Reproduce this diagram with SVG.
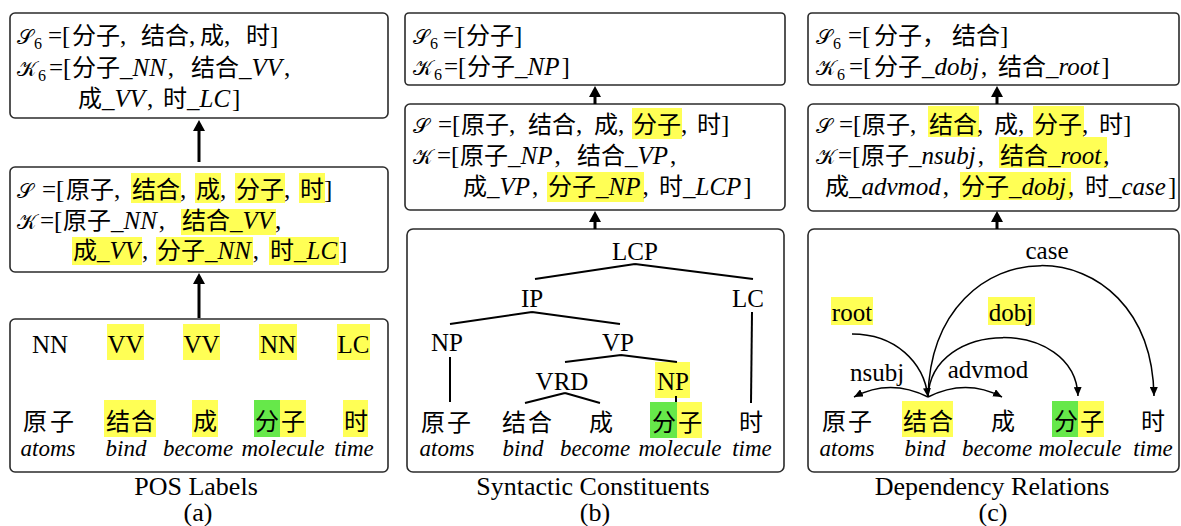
<svg xmlns="http://www.w3.org/2000/svg" width="1181" height="526" viewBox="0 0 1181 526">
<style>
.box{fill:#fff;stroke:#2b2b2b;stroke-width:1.6}
.hy{fill:#ffff55}
.hg{fill:#66e84a}
text{font-family:"Liberation Serif","Noto Sans CJK SC",serif;font-size:25px;fill:#000}
.zh{font-family:"Noto Sans CJK SC","Liberation Serif",sans-serif;font-size:24px;font-style:normal}
.it{font-style:italic}
.sub{font-size:16px}
.cal{font-family:"DejaVu Serif","DejaVu Sans","Liberation Serif",serif;font-size:21px}
.w{font-size:23px;font-style:italic;text-anchor:middle}
.tag{text-anchor:middle}
.cap{font-size:26px;text-anchor:middle}
.tree{stroke:#000;stroke-width:2;fill:none}
.arc{stroke:#000;stroke-width:1.5;fill:none;marker-end:url(#ah)}
.up{stroke:#000;stroke-width:3;fill:none;marker-end:url(#big)}
</style>
<defs>
<marker id="ah" markerUnits="userSpaceOnUse" markerWidth="10" markerHeight="8" refX="9" refY="4" orient="auto"><path d="M0,0 L9,4 L0,8 z" fill="#000"/></marker>
<marker id="big" markerUnits="userSpaceOnUse" markerWidth="12" markerHeight="12" refX="0" refY="6" orient="auto"><path d="M0,0 L11,6 L0,12 z" fill="#000"/></marker>
</defs>

<!-- ===== Panel (a) ===== -->
<g id="a-top">
<rect class="box" x="10" y="13" width="378" height="105" rx="5"/>
<text y="44"><tspan class="cal" x="17">𝒮</tspan><tspan class="sub" dx="1" dy="5">6</tspan><tspan x="48" dy="-5">=[</tspan><tspan class="zh" x="72">分子</tspan><tspan>,</tspan><tspan class="zh" x="141">结合</tspan><tspan>,</tspan><tspan class="zh" x="200">成</tspan><tspan>,</tspan><tspan class="zh" x="246">时</tspan><tspan>]</tspan></text>
<text y="76"><tspan class="cal" x="17">𝒦</tspan><tspan class="sub" dx="1" dy="5">6</tspan><tspan x="49" dy="-5">=[</tspan><tspan class="zh" x="72">分子</tspan><tspan class="it">_NN</tspan><tspan dx="2">,</tspan><tspan class="zh" x="191">结合</tspan><tspan class="it">_VV</tspan><tspan dx="2">,</tspan></text>
<text y="107"><tspan class="zh" x="78">成</tspan><tspan class="it">_VV</tspan><tspan dx="2">,</tspan><tspan class="zh" x="163">时</tspan><tspan class="it">_LC</tspan><tspan dx="2">]</tspan></text>
</g>
<g id="a-mid">
<rect class="box" x="10" y="167" width="378" height="105" rx="5"/>
<rect class="hy" x="131" y="173" width="50" height="30"/>
<rect class="hy" x="195" y="173" width="26" height="30"/>
<rect class="hy" x="235" y="173" width="50" height="30"/>
<rect class="hy" x="299" y="173" width="26" height="30"/>
<rect class="hy" x="181" y="209" width="95" height="26"/>
<rect class="hy" x="72" y="237" width="70" height="28"/>
<rect class="hy" x="156" y="237" width="97" height="28"/>
<rect class="hy" x="269" y="237" width="70" height="28"/>
<text y="198"><tspan class="cal" x="17">𝒮</tspan><tspan x="42">=[</tspan><tspan class="zh" x="66">原子</tspan><tspan>,</tspan><tspan class="zh" x="132">结合</tspan><tspan>,</tspan><tspan class="zh" x="196">成</tspan><tspan>,</tspan><tspan class="zh" x="236">分子</tspan><tspan>,</tspan><tspan class="zh" x="300">时</tspan><tspan>]</tspan></text>
<text y="229"><tspan class="cal" x="17">𝒦</tspan><tspan x="40">=[</tspan><tspan class="zh" x="63">原子</tspan><tspan class="it">_NN</tspan><tspan dx="2">,</tspan><tspan class="zh" x="182">结合</tspan><tspan class="it">_VV</tspan><tspan dx="2">,</tspan></text>
<text y="259"><tspan class="zh" x="73">成</tspan><tspan class="it">_VV</tspan><tspan dx="2">,</tspan><tspan class="zh" x="157">分子</tspan><tspan class="it">_NN</tspan><tspan dx="2">,</tspan><tspan class="zh" x="270">时</tspan><tspan class="it">_LC</tspan><tspan dx="2">]</tspan></text>
</g>
<g id="a-bottom">
<rect class="box" x="10" y="319" width="378" height="153" rx="5"/>
<rect class="hy" x="107" y="324" width="37" height="36"/>
<rect class="hy" x="183" y="324" width="37" height="36"/>
<rect class="hy" x="259" y="324" width="38" height="36"/>
<rect class="hy" x="337" y="324" width="33" height="36"/>
<rect class="hy" x="104" y="400" width="52" height="37"/>
<rect class="hy" x="192" y="400" width="26" height="37"/>
<rect class="hg" x="254" y="400" width="26" height="37"/>
<rect class="hy" x="280" y="400" width="26" height="37"/>
<rect class="hy" x="343" y="400" width="25" height="37"/>
<text class="tag" x="50" y="353">NN</text>
<text class="tag" x="125.5" y="353">VV</text>
<text class="tag" x="201.5" y="353">VV</text>
<text class="tag" x="278" y="353">NN</text>
<text class="tag" x="353.5" y="353">LC</text>
<text class="zh" y="430"><tspan x="23">原</tspan><tspan x="50">子</tspan><tspan x="106">结</tspan><tspan x="131">合</tspan><tspan x="193">成</tspan><tspan x="255">分</tspan><tspan x="281">子</tspan><tspan x="344">时</tspan></text>
<text class="w" x="48" y="456">atoms</text>
<text class="w" x="126" y="456">bind</text>
<text class="w" x="198" y="456">become</text>
<text class="w" x="283" y="456">molecule</text>
<text class="w" x="354" y="456">time</text>
</g>
<g id="a-caption">
<text class="cap" x="196" y="495">POS Labels</text>
<text class="cap" x="198" y="521">(a)</text>
</g>

<!-- ===== Panel (b) ===== -->
<g id="b-top">
<rect class="box" x="405" y="13" width="380" height="72" rx="4"/>
<text y="44"><tspan class="cal" x="413">𝒮</tspan><tspan class="sub" dx="1" dy="5">6</tspan><tspan x="443" dy="-5">=[</tspan><tspan class="zh" x="466">分子</tspan><tspan>]</tspan></text>
<text y="75"><tspan class="cal" x="413">𝒦</tspan><tspan class="sub" dx="1" dy="5">6</tspan><tspan x="444" dy="-5">=[</tspan><tspan class="zh" x="467">分子</tspan><tspan class="it">_NP</tspan><tspan dx="2">]</tspan></text>
</g>
<g id="b-mid">
<rect class="box" x="405" y="104" width="380" height="106" rx="5"/>
<rect class="hy" x="632" y="108" width="50" height="31"/>
<rect class="hy" x="547" y="172" width="97" height="30"/>
<text y="133"><tspan class="cal" x="413">𝒮</tspan><tspan x="438">=[</tspan><tspan class="zh" x="461">原子</tspan><tspan>,</tspan><tspan class="zh" x="528">结合</tspan><tspan>,</tspan><tspan class="zh" x="594">成</tspan><tspan>,</tspan><tspan class="zh" x="633">分子</tspan><tspan>,</tspan><tspan class="zh" x="697">时</tspan><tspan>]</tspan></text>
<text y="164"><tspan class="cal" x="413">𝒦</tspan><tspan x="437">=[</tspan><tspan class="zh" x="460">原子</tspan><tspan class="it">_NP</tspan><tspan dx="2">,</tspan><tspan class="zh" x="577">结合</tspan><tspan class="it">_VP</tspan><tspan dx="2">,</tspan></text>
<text y="195"><tspan class="zh" x="463">成</tspan><tspan class="it">_VP</tspan><tspan dx="2">,</tspan><tspan class="zh" x="548">分子</tspan><tspan class="it">_NP</tspan><tspan dx="2">,</tspan><tspan class="zh" x="659">时</tspan><tspan class="it">_LCP</tspan><tspan dx="2">]</tspan></text>
</g>
<g id="b-tree">
<rect class="box" x="407" y="229" width="377" height="243" rx="6"/>
<rect class="hy" x="655" y="362" width="35" height="36"/>
<rect class="hg" x="650" y="402" width="27" height="36"/>
<rect class="hy" x="677" y="402" width="25" height="36"/>
<g class="tree">
<path d="M635,264 L535,279 M635,264 L753,279"/>
<path d="M532,312 L450,324 M532,312 L620,324"/>
<path d="M450,357 L450,402"/>
<path d="M752,312 L751,403"/>
<path d="M621,355 L565,362 M621,355 L677,362"/>
<path d="M565,393 L525,403 M565,393 L600,403"/>
<path d="M676,396 L676,402"/>
</g>
<text class="tag" x="635" y="260">LCP</text>
<text class="tag" x="532" y="307">IP</text>
<text class="tag" x="748" y="307">LC</text>
<text class="tag" x="447" y="351">NP</text>
<text class="tag" x="618" y="351">VP</text>
<text class="tag" x="562" y="390">VRD</text>
<text class="tag" x="673" y="390">NP</text>
<text class="zh" y="431"><tspan x="421">原</tspan><tspan x="447">子</tspan><tspan x="502">结</tspan><tspan x="528">合</tspan><tspan x="589">成</tspan><tspan x="652">分</tspan><tspan x="678">子</tspan><tspan x="739">时</tspan></text>
<text class="w" x="447" y="456">atoms</text>
<text class="w" x="523" y="456">bind</text>
<text class="w" x="595" y="456">become</text>
<text class="w" x="680" y="456">molecule</text>
<text class="w" x="752" y="456">time</text>
</g>
<g id="b-caption">
<text class="cap" x="593" y="495">Syntactic Constituents</text>
<text class="cap" x="595" y="521">(b)</text>
</g>

<!-- ===== Panel (c) ===== -->
<g id="c-top">
<rect class="box" x="808" y="13" width="371" height="72" rx="4"/>
<text y="44"><tspan class="cal" x="816">𝒮</tspan><tspan class="sub" dx="1" dy="5">6</tspan><tspan x="848" dy="-5">=[</tspan><tspan class="zh" x="874">分子，</tspan><tspan class="zh" x="952">结合</tspan><tspan>]</tspan></text>
<text y="75"><tspan class="cal" x="816">𝒦</tspan><tspan class="sub" dx="1" dy="5">6</tspan><tspan x="849" dy="-5">=[</tspan><tspan class="zh" x="874">分子</tspan><tspan class="it">_dobj</tspan><tspan dx="2">,</tspan><tspan class="zh" x="998">结合</tspan><tspan class="it">_root</tspan><tspan dx="2">]</tspan></text>
</g>
<g id="c-mid">
<rect class="box" x="808" y="104" width="371" height="107" rx="5"/>
<rect class="hy" x="928" y="106" width="51" height="31"/>
<rect class="hy" x="1033" y="106" width="51" height="31"/>
<rect class="hy" x="999" y="137" width="108" height="31"/>
<rect class="hy" x="960" y="172" width="111" height="28"/>
<text y="133"><tspan class="cal" x="816">𝒮</tspan><tspan x="839">=[</tspan><tspan class="zh" x="862">原子</tspan><tspan>,</tspan><tspan class="zh" x="929">结合</tspan><tspan>,</tspan><tspan class="zh" x="994">成</tspan><tspan>,</tspan><tspan class="zh" x="1034">分子</tspan><tspan>,</tspan><tspan class="zh" x="1099">时</tspan><tspan>]</tspan></text>
<text y="164"><tspan class="cal" x="816">𝒦</tspan><tspan x="838">=[</tspan><tspan class="zh" x="861">原子</tspan><tspan class="it">_nsubj</tspan><tspan dx="2">,</tspan><tspan class="zh" x="1000">结合</tspan><tspan class="it">_root</tspan><tspan dx="2">,</tspan></text>
<text y="195"><tspan class="zh" x="825">成</tspan><tspan class="it">_advmod</tspan><tspan dx="2">,</tspan><tspan class="zh" x="961">分子</tspan><tspan class="it">_dobj</tspan><tspan dx="2">,</tspan><tspan class="zh" x="1085">时</tspan><tspan class="it">_case</tspan><tspan dx="2">]</tspan></text>
</g>
<g id="c-deps">
<rect class="box" x="808" y="229" width="371" height="243" rx="6"/>
<rect class="hy" x="831" y="297" width="42" height="28"/>
<rect class="hy" x="988" y="297" width="47" height="28"/>
<rect class="hy" x="902" y="401" width="51" height="36"/>
<rect class="hg" x="1052" y="401" width="26" height="36"/>
<rect class="hy" x="1078" y="401" width="26" height="36"/>
<text class="tag" x="852" y="321">root</text>
<text class="tag" x="1011" y="321">dobj</text>
<text class="tag" x="1047" y="259">case</text>
<text class="tag" x="877" y="381">nsubj</text>
<text class="tag" x="988" y="378">advmod</text>
<text class="zh" y="430"><tspan x="822">原</tspan><tspan x="848">子</tspan><tspan x="903">结</tspan><tspan x="929">合</tspan><tspan x="991">成</tspan><tspan x="1054">分</tspan><tspan x="1080">子</tspan><tspan x="1141">时</tspan></text>
<text class="w" x="847" y="456">atoms</text>
<text class="w" x="925" y="456">bind</text>
<text class="w" x="997" y="456">become</text>
<text class="w" x="1080" y="456">molecule</text>
<text class="w" x="1153" y="456">time</text>
</g>
<g id="c-caption">
<text class="cap" x="992" y="495">Dependency Relations</text>
<text class="cap" x="993" y="521">(c)</text>
</g>

<!-- ===== Connectors ===== -->
<g id="connectors">
<line class="up" x1="199" y1="162" x2="199" y2="131"/>
<line class="up" x1="199" y1="318" x2="199" y2="284"/>
<line class="up" x1="595" y1="104" x2="595" y2="97"/>
<line class="up" x1="595" y1="229" x2="595" y2="222"/>
<line class="up" x1="997" y1="104" x2="997" y2="97"/>
<line class="up" x1="997" y1="229" x2="997" y2="222"/>
<path class="arc" d="M852,334 C895,334 924,362 928,397"/>
<path class="arc" d="M928,397 Q890,378 854,397"/>
<path class="arc" d="M928,397 Q966,378 1002,397"/>
<path class="arc" d="M928,397 C931,318 1075,318 1078,396"/>
<path class="arc" d="M928,397 C932,222 1151,222 1154,396"/>
</g>
</svg>
